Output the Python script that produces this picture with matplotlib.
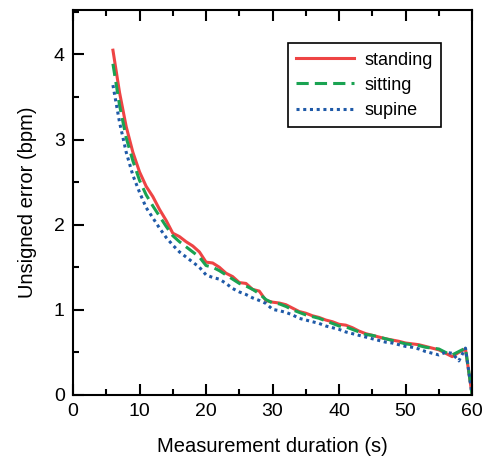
import numpy as np
import matplotlib
matplotlib.use('Agg')
import matplotlib.pyplot as plt
from matplotlib.ticker import MultipleLocator

plt.rcParams.update({
    'font.family': ['Liberation Sans', 'DejaVu Sans'],
    'font.size': 14,
    'axes.linewidth': 1.5,
})

# measurement duration (s)
duration = np.arange(6, 61)

# unsigned error (bpm) per posture
standing = [4.05, 3.55, 3.15, 2.85, 2.62, 2.45, 2.33, 2.18, 2.05, 1.90,
            1.86, 1.80, 1.75, 1.68, 1.56, 1.55, 1.50, 1.43, 1.39, 1.32,
            1.31, 1.24, 1.22, 1.11, 1.09, 1.08, 1.06, 1.02, 0.98, 0.96,
            0.93, 0.91, 0.88, 0.86, 0.83, 0.82, 0.79, 0.75, 0.72, 0.70,
            0.68, 0.66, 0.645, 0.63, 0.61, 0.60, 0.59, 0.57, 0.55, 0.53,
            0.49, 0.45, 0.50, 0.54, 0.0]
sitting = [3.89, 3.40, 3.02, 2.75, 2.52, 2.35, 2.22, 2.10, 1.98, 1.87,
           1.80, 1.74, 1.68, 1.62, 1.52, 1.50, 1.46, 1.41, 1.36, 1.31,
           1.28, 1.24, 1.19, 1.12, 1.08, 1.07, 1.04, 1.00, 0.97, 0.94,
           0.92, 0.90, 0.87, 0.84, 0.81, 0.80, 0.77, 0.74, 0.71, 0.70,
           0.68, 0.66, 0.64, 0.62, 0.60, 0.59, 0.58, 0.56, 0.55, 0.54,
           0.50, 0.47, 0.51, 0.55, 0.0]
supine = [3.64, 3.20, 2.85, 2.58, 2.38, 2.20, 2.08, 1.96, 1.85, 1.76,
          1.68, 1.62, 1.56, 1.50, 1.41, 1.38, 1.36, 1.31, 1.25, 1.21,
          1.18, 1.14, 1.11, 1.075, 1.005, 0.99, 0.97, 0.94, 0.90, 0.88,
          0.86, 0.84, 0.81, 0.79, 0.77, 0.74, 0.72, 0.70, 0.68, 0.66,
          0.64, 0.62, 0.61, 0.59, 0.57, 0.56, 0.54, 0.51, 0.49, 0.47,
          0.50, 0.49, 0.40, 0.55, 0.0]

fig = plt.figure(figsize=(4.82, 4.63), dpi=100)
ax = fig.add_axes([0.1515, 0.147, 0.828, 0.831])

ax.plot(duration, standing, color='#ee4444', lw=2.2, label='standing')
ax.plot(duration, sitting, color='#1aa352', lw=2.2, ls=(0, (4, 2)), label='sitting')
ax.plot(duration, supine, color='#1f5aa8', lw=2.2, ls=(0, (1, 1.2)), label='supine')

ax.set_xlim(0, 60)
ax.set_ylim(0, 4.52)
ax.xaxis.set_major_locator(MultipleLocator(10))
ax.xaxis.set_minor_locator(MultipleLocator(5))
ax.yaxis.set_major_locator(MultipleLocator(1))
ax.yaxis.set_minor_locator(MultipleLocator(0.5))
ax.tick_params(which='both', direction='in', top=True, right=False, width=1.5)
ax.tick_params(which='major', length=8, pad=6)
ax.tick_params(which='minor', length=4)

ax.set_xlabel('Measurement duration (s)', labelpad=12, fontsize=14.5)
ax.set_ylabel('Unsigned error (bpm)', labelpad=12, fontsize=14.5)

leg = ax.legend(loc='upper right', bbox_to_anchor=(0.945, 0.937), fancybox=False,
                edgecolor='black', framealpha=1, fontsize=13, handlelength=3.2,
                handletextpad=0.6, borderpad=0.45, labelspacing=0.45)
leg.get_frame().set_linewidth(1.2)

fig.savefig('out.png', dpi=100)
